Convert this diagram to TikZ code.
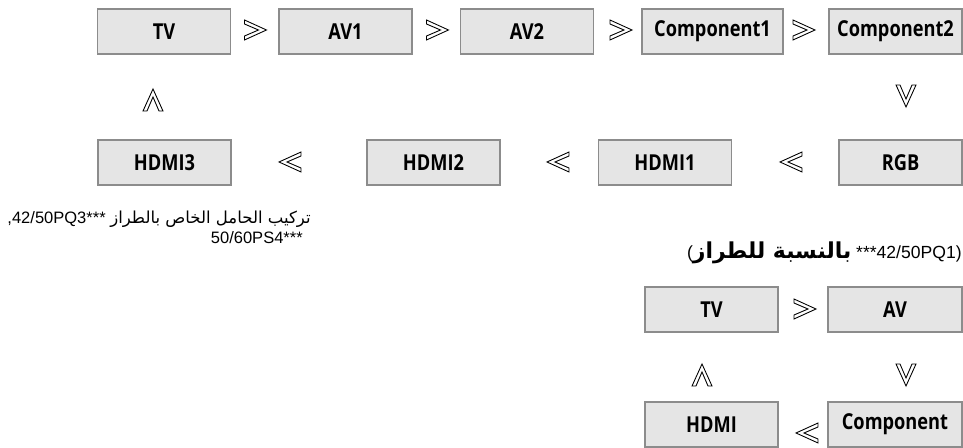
\documentclass[tikz,border=0pt]{standalone}
\usepackage{fontspec}
\newfontfamily\boxfont{Open Sans}[FakeStretch=0.83]
\newfontfamily\capfont{Liberation Sans}
\newfontfamily\arabicfont[Script=Arabic]{DejaVu Sans}
\TeXXeTstate=1

\tikzset{
  srcbox/.style={draw=black!45, line width=1.1pt, fill=black!10, minimum width=2.66cm, minimum height=0.9cm,
    inner sep=0pt, font=\boxfont\bfseries\fontsize{12.5}{14}\selectfont},
  chev/.pic={\draw[line width=0.5pt, line join=miter] (-0.22cm,0.2cm) -- (0.22cm,0cm) -- (-0.22cm,-0.2cm)
    -- (-0.22cm,-0.12cm) -- (0.06cm,0cm) -- (-0.22cm,0.12cm) -- cycle;}
}

\begin{document}
\begin{tikzpicture}[x=0.02cm, y=-0.02cm]
        \useasboundingbox (0,0) rectangle (963,448);

        % Draw nodes (input loop)
        \node[srcbox] (tv) at (164,31.5) {TV};
        \node[srcbox] (av1) at (345.5,31.5) {AV1};
        \node[srcbox] (av2) at (527,31.5) {AV2};
        \node[srcbox, minimum width=2.82cm] (comp1) at (712.5,31.5) {Component1};
        \node[srcbox] (comp2) at (895.5,31.5) {Component2};
        \node[srcbox] (hdmi3) at (164.5,162.5) {HDMI3};
        \node[srcbox] (hdmi2) at (433.5,162.5) {HDMI2};
        \node[srcbox] (hdmi1) at (665,162.5) {HDMI1};
        \node[srcbox, minimum width=2.46cm] (rgb) at (900.5,162.5) {RGB};

        % Draw chevrons
        \pic at (255.5,30) {chev};
        \pic at (437.5,30) {chev};
        \pic at (621,30) {chev};
        \pic at (804,30) {chev};
        \pic[rotate=-90] at (906,96) {chev};
        \pic[rotate=180] at (791,162) {chev};
        \pic[rotate=180] at (558,162) {chev};
        \pic[rotate=180] at (290,162) {chev};
        \pic[rotate=90] at (153,100) {chev};

        % Captions
        \node[anchor=north east, align=right, inner sep=0pt, font=\capfont\fontsize{9.4}{11}\selectfont] (note1) at (311,211)
          {,42/50PQ3*** {\arabicfont\beginR تركيب الحامل الخاص بالطراز\endR}\\50/60PS4***\hspace*{4.5pt}};
        \node[anchor=east, inner sep=0pt, font=\capfont\fontsize{10}{12}\selectfont] (note2) at (962,253)
          {({\arabicfont\bfseries\fontsize{12.5}{13}\selectfont\beginR بالنسبة للطراز\endR} ***42/50PQ1)};

        % Draw nodes (small loop)
        \node[srcbox] (tvb) at (711.5,309.5) {TV};
        \node[srcbox, minimum width=2.68cm] (avb) at (895,309.5) {AV};
        \node[srcbox] (hdmib) at (711.5,424.5) {HDMI};
        \node[srcbox, minimum width=2.68cm] (compb) at (895,424.5) {Component};

        \pic at (805,309) {chev};
        \pic[rotate=-90] at (906,375) {chev};
        \pic[rotate=180] at (807,433) {chev};
        \pic[rotate=90] at (702,375) {chev};
    \end{tikzpicture}
\end{document}
